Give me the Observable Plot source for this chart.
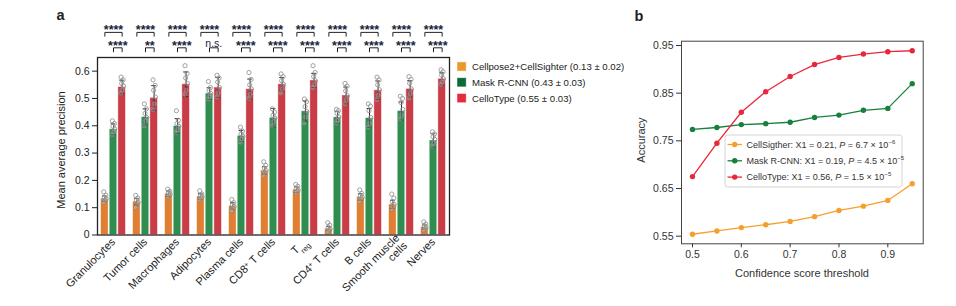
<!DOCTYPE html>
<html>
<head>
<meta charset="utf-8">
<script src="https://cdn.jsdelivr.net/npm/d3@7"></script>
<script src="https://cdn.jsdelivr.net/npm/@observablehq/plot@0.6"></script>
<style>
  body { margin: 0; background: #fff; }
  #fig { position: relative; width: 956px; height: 306px; overflow: hidden; background: #fff;
         font-family: "Liberation Sans", Arial, sans-serif; color: #222; }
  #fig > svg { position: absolute; top: 0; }
  #overlay { left: 0; pointer-events: none; }
</style>
</head>
<body>
<div id="fig"></div>
<script>
// ---------- Panel a: mean average precision by cell type ----------
const categories = ["Granulocytes", "Tumor cells", "Macrophages", "Adipocytes", "Plasma cells",
  "CD8+ T cells", "Treg", "CD4+ T cells", "B cells", "Smooth muscle\ncells", "Nerves"];
const methods = ["Cellpose2+CellSighter", "Mask R-CNN", "CelloType"];
const methodSummaries = ["0.13 ± 0.02", "0.43 ± 0.03", "0.55 ± 0.03"];

const meanCellpose  = [0.133, 0.122, 0.151, 0.141, 0.106, 0.236, 0.166, 0.023, 0.139, 0.112, 0.029];
const sdCellpose    = [0.010, 0.012, 0.010, 0.010, 0.012, 0.014, 0.010, 0.008, 0.012, 0.015, 0.008];
const meanMaskRCNN  = [0.387, 0.432, 0.399, 0.518, 0.363, 0.429, 0.453, 0.431, 0.428, 0.454, 0.346];
const sdMaskRCNN    = [0.020, 0.030, 0.027, 0.021, 0.020, 0.034, 0.038, 0.022, 0.035, 0.033, 0.025];
const meanCelloType = [0.542, 0.502, 0.552, 0.540, 0.534, 0.552, 0.566, 0.511, 0.530, 0.535, 0.572];
const sdCelloType   = [0.025, 0.045, 0.045, 0.037, 0.037, 0.025, 0.026, 0.031, 0.034, 0.030, 0.022];

// per-image scores behind each bar
const pointsCellpose = [
  [0.158, 0.145, 0.138, 0.132, 0.125, 0.120], [0.145, 0.135, 0.128, 0.120, 0.112, 0.100],
  [0.168, 0.160, 0.154, 0.150, 0.144, 0.140], [0.162, 0.150, 0.145, 0.140, 0.135, 0.130],
  [0.130, 0.118, 0.110, 0.104, 0.096, 0.088], [0.268, 0.255, 0.245, 0.236, 0.228, 0.218],
  [0.185, 0.178, 0.170, 0.165, 0.160, 0.155], [0.045, 0.036, 0.028, 0.022, 0.016, 0.012],
  [0.165, 0.152, 0.144, 0.138, 0.132, 0.122], [0.150, 0.135, 0.122, 0.112, 0.102, 0.095],
  [0.048, 0.040, 0.034, 0.028, 0.022, 0.018]];
const pointsMaskRCNN = [
  [0.418, 0.408, 0.398, 0.388, 0.378, 0.368], [0.480, 0.462, 0.445, 0.430, 0.418, 0.400],
  [0.455, 0.420, 0.408, 0.398, 0.385, 0.375], [0.562, 0.540, 0.528, 0.518, 0.508, 0.498],
  [0.395, 0.380, 0.370, 0.362, 0.352, 0.340], [0.462, 0.450, 0.438, 0.428, 0.415, 0.400],
  [0.498, 0.488, 0.470, 0.452, 0.432, 0.410], [0.460, 0.455, 0.445, 0.432, 0.420, 0.410],
  [0.480, 0.472, 0.455, 0.430, 0.410, 0.395], [0.508, 0.500, 0.485, 0.460, 0.440, 0.425],
  [0.378, 0.370, 0.360, 0.350, 0.336, 0.325]];
const pointsCelloType = [
  [0.578, 0.568, 0.555, 0.545, 0.532, 0.520], [0.568, 0.548, 0.530, 0.505, 0.480, 0.460],
  [0.620, 0.592, 0.575, 0.555, 0.530, 0.515], [0.585, 0.575, 0.560, 0.540, 0.520, 0.505],
  [0.595, 0.570, 0.550, 0.535, 0.515, 0.500], [0.590, 0.580, 0.565, 0.552, 0.535, 0.520],
  [0.620, 0.595, 0.580, 0.565, 0.550, 0.540], [0.555, 0.545, 0.528, 0.510, 0.495, 0.480],
  [0.578, 0.568, 0.550, 0.532, 0.512, 0.495], [0.580, 0.570, 0.555, 0.535, 0.518, 0.502],
  [0.605, 0.598, 0.585, 0.572, 0.560, 0.552]];

// significance: Cellpose2+CellSighter vs CelloType, Mask R-CNN vs CelloType
const sigCellposeVsCelloType = ["****", "****", "****", "****", "****", "****", "****", "****", "****", "****", "****"];
const sigMaskVsCelloType     = ["****", "**", "****", "n.s.", "****", "****", "****", "****", "****", "****", "****"];

const yTicksA = [0, 0.1, 0.2, 0.3, 0.4, 0.5, 0.6];

// ---------- Panel b: accuracy vs confidence threshold ----------
const thresholds = [0.5, 0.55, 0.6, 0.65, 0.7, 0.75, 0.8, 0.85, 0.9, 0.95];
const accCellSigther = [0.554, 0.561, 0.568, 0.574, 0.581, 0.591, 0.604, 0.613, 0.625, 0.660];
const accMaskRCNN    = [0.774, 0.778, 0.784, 0.786, 0.789, 0.799, 0.804, 0.814, 0.818, 0.870];
const accCelloType   = [0.675, 0.745, 0.810, 0.853, 0.885, 0.910, 0.925, 0.932, 0.937, 0.939];
const seriesB = ["CellSigther", "Mask R-CNN", "CelloType"];
const seriesStats = [
  {x1: "0.21", p: "6.7", e: "−6"},
  {x1: "0.19", p: "4.5", e: "−5"},
  {x1: "0.56", p: "1.5", e: "−5"}];
const xTicksB = [0.5, 0.6, 0.7, 0.8, 0.9];
const yTicksB = [0.55, 0.65, 0.75, 0.85, 0.95];

// ---------- styling ----------
const barColors = ["#e07f31", "#2f8d4f", "#c93b45"];
const legendColorsA = ["#e89b2c", "#0c6b35", "#e42a3c"];
const lineColorsB = ["#f5a02e", "#16803c", "#e8283a"];
const barOffset = [-0.27, 0, 0.27];   // position of each method inside a group
const barHalf = 0.118;
const dotJitter = [-0.035, 0.03, -0.015, 0.04, 0.005, -0.04];
const starsColor = "#1c2340";

// ---------- build tables ----------
const means = [meanCellpose, meanMaskRCNN, meanCelloType];
const sds = [sdCellpose, sdMaskRCNN, sdCelloType];
const pts = [pointsCellpose, pointsMaskRCNN, pointsCelloType];
const rows = [];
const dots = [];
categories.forEach((c, i) => methods.forEach((m, j) => {
  rows.push({i, j, m, mean: means[j][i], sd: sds[j][i]});
  pts[j][i].forEach((v, k) => dots.push({i, j, k, v}));
}));
const idx = d3.range(categories.length);
const bx = (d) => d.i + barOffset[d.j];

// bracket levels in y units (above the frame)
const b1Top = 0.742, b1Low = 0.728, b1Text = 0.749;
const b2Top = 0.6855, b2Low = 0.671, b2Text = 0.693;
const brackets = [];
idx.forEach(i => {
  [[0, 2, b1Low, b1Top], [1, 2, b2Low, b2Top]].forEach(([a, b, lo, hi], r) => {
    const key = i * 2 + r;
    brackets.push({key, x: i + barOffset[a], y: lo}, {key, x: i + barOffset[a], y: hi},
                  {key, x: i + barOffset[b], y: hi}, {key, x: i + barOffset[b], y: lo});
  });
});

const plotA = Plot.plot({
  width: 460, height: 306,
  marginLeft: 97, marginRight: 11, marginTop: 57, marginBottom: 71.5,
  style: {fontFamily: "Liberation Sans, Arial, sans-serif", fontSize: "10.5px", color: "#222", background: "transparent"},
  x: {domain: [-0.5, 10.5], ticks: idx, tickFormat: i => categories[i], tickRotate: -45,
      tickSize: 0, tickPadding: 5, label: null},
  y: {domain: [0, 0.65], ticks: yTicksA, tickFormat: d => d === 0 ? "0" : d.toFixed(1),
      tickSize: 5, tickPadding: 3, label: null},
  color: {domain: methods, range: barColors},
  marks: [
    Plot.rectY(rows, {x1: d => bx(d) - barHalf, x2: d => bx(d) + barHalf, y1: 0, y2: "mean",
      fill: "m", stroke: "#ffffff", strokeOpacity: 0.55, strokeWidth: 0.8}),
    Plot.ruleX(rows, {x: bx, y1: d => d.mean - d.sd, y2: d => d.mean + d.sd, stroke: "#2a2a2a", strokeWidth: 1}),
    Plot.ruleY(rows, {x1: d => bx(d) - 0.075, x2: d => bx(d) + 0.075, y: d => d.mean + d.sd, stroke: "#2a2a2a", strokeWidth: 1}),
    Plot.ruleY(rows, {x1: d => bx(d) - 0.075, x2: d => bx(d) + 0.075, y: d => d.mean - d.sd, stroke: "#2a2a2a", strokeWidth: 1}),
    Plot.dot(dots, {x: d => d.i + barOffset[d.j] + dotJitter[d.k], y: "v", r: 2.1,
      stroke: "#8a8a8a", strokeWidth: 0.8, fill: "#ffffff", fillOpacity: 0.2}),
    Plot.frame({stroke: "#222", strokeWidth: 1.3}),
    Plot.line(brackets, {x: "x", y: "y", z: "key", stroke: "#222", strokeWidth: 1}),
    Plot.text(idx, {x: i => i + (barOffset[0] + barOffset[2]) / 2, y: b1Text, text: i => sigCellposeVsCelloType[i],
      fill: starsColor, fontSize: 12.5, fontWeight: "bold"}),
    Plot.text(idx.filter(i => sigMaskVsCelloType[i] !== "n.s."), {x: i => i + (barOffset[1] + barOffset[2]) / 2, y: b2Text,
      text: i => sigMaskVsCelloType[i], fill: starsColor, fontSize: 12.5, fontWeight: "bold"}),
    Plot.text(idx.filter(i => sigMaskVsCelloType[i] === "n.s."), {x: i => i + (barOffset[1] + barOffset[2]) / 2, y: b2Text,
      text: i => sigMaskVsCelloType[i], fill: starsColor, fontSize: 10.5, dy: -2})
  ]
});
plotA.style.left = "0px";

const lineRows = [];
[accCellSigther, accMaskRCNN, accCelloType].forEach((arr, s) =>
  arr.forEach((v, k) => lineRows.push({s: seriesB[s], t: thresholds[k], v})));

const plotB = Plot.plot({
  width: 356, height: 306,
  marginLeft: 81, marginRight: 33.3, marginTop: 40.7, marginBottom: 62.7,
  style: {fontFamily: "Liberation Sans, Arial, sans-serif", fontSize: "10.5px", color: "#333", background: "transparent"},
  x: {domain: [0.4775, 0.9725], ticks: xTicksB, tickFormat: d => d.toFixed(1), tickSize: 4, tickPadding: 3, label: null},
  y: {domain: [0.534, 0.959], ticks: yTicksB, tickFormat: d => d.toFixed(2), tickSize: 5, tickPadding: 3, label: null},
  color: {domain: seriesB, range: lineColorsB},
  marks: [
    Plot.line(lineRows, {x: "t", y: "v", stroke: "s", strokeWidth: 1.3}),
    Plot.dot(lineRows, {x: "t", y: "v", fill: "s", r: 2.7}),
    Plot.frame({stroke: "#444", strokeWidth: 1})
  ]
});
plotB.style.left = "600px";

// sub/superscripts in the cell-type labels
function richTickLabels(svg) {
  svg.querySelectorAll("text").forEach(t => {
    const s = t.textContent;
    if (s === "Treg") t.innerHTML = 'T<tspan baseline-shift="sub" font-size="7.5">reg</tspan>';
    else if (/^CD[48]\+ T cells$/.test(s))
      t.innerHTML = s.slice(0, 3) + '<tspan baseline-shift="super" font-size="7">+</tspan> T cells';
  });
  const xl = svg.querySelector('[aria-label="x-axis tick label"]');
  if (xl) xl.setAttribute("font-size", "11px");
}
richTickLabels(plotA);

const fig = document.getElementById("fig");
fig.appendChild(plotA);
fig.appendChild(plotB);

// panel letters, axis titles and legends
const ov = d3.select(fig).append("svg").attr("id", "overlay")
  .attr("width", 956).attr("height", 306)
  .attr("font-family", "Liberation Sans, Arial, sans-serif").attr("fill", "#222");

ov.append("text").attr("x", 56.5).attr("y", 19.5).attr("font-size", 14.5).attr("font-weight", "bold").text("a");
ov.append("text").attr("x", 634.5).attr("y", 20.5).attr("font-size", 14.5).attr("font-weight", "bold").text("b");

ov.append("text").attr("transform", "translate(61,150) rotate(-90)").attr("text-anchor", "middle")
  .attr("dominant-baseline", "central").attr("font-size", 11).text("Mean average precision");
ov.append("text").attr("transform", "translate(641,140) rotate(-90)").attr("text-anchor", "middle")
  .attr("dominant-baseline", "central").attr("font-size", 11).attr("fill", "#333").text("Accuracy");
ov.append("text").attr("x", 802).attr("y", 273).attr("text-anchor", "middle")
  .attr("dominant-baseline", "central").attr("font-size", 11).attr("fill", "#333").text("Confidence score threshold");

// legend for panel a
methods.forEach((m, j) => {
  const y = 66.5 + j * 15.8;
  ov.append("rect").attr("x", 457).attr("y", y - 4.6).attr("width", 9.2).attr("height", 9.2)
    .attr("fill", legendColorsA[j]).attr("stroke", "#ffffff").attr("stroke-opacity", 0.6).attr("stroke-width", 0.8);
  ov.append("text").attr("x", 472).attr("y", y).attr("dominant-baseline", "central")
    .attr("font-size", 9.6).text(`${m} (${methodSummaries[j]})`);
});

// legend for panel b
ov.append("rect").attr("x", 725).attr("y", 135).attr("width", 177).attr("height", 52).attr("rx", 2.5)
  .attr("fill", "#fff").attr("fill-opacity", 0.92).attr("stroke", "#cfcfcf").attr("stroke-width", 0.9);
seriesB.forEach((s, k) => {
  const y = 144.5 + k * 16.3;
  ov.append("line").attr("x1", 727.5).attr("x2", 742).attr("y1", y).attr("y2", y)
    .attr("stroke", lineColorsB[k]).attr("stroke-width", 1.3);
  ov.append("circle").attr("cx", 734.7).attr("cy", y).attr("r", 2.7).attr("fill", lineColorsB[k]);
  const t = ov.append("text").attr("x", 746.5).attr("y", y).attr("dominant-baseline", "central")
    .attr("font-size", 9).attr("fill", "#333");
  const st = seriesStats[k];
  t.append("tspan").text(`${s}: X1 = ${st.x1}, `);
  t.append("tspan").attr("font-style", "italic").text("P");
  t.append("tspan").text(` = ${st.p} × 10`);
  t.append("tspan").attr("baseline-shift", "super").attr("font-size", 6).text(st.e);
});
</script>
</body>
</html>
